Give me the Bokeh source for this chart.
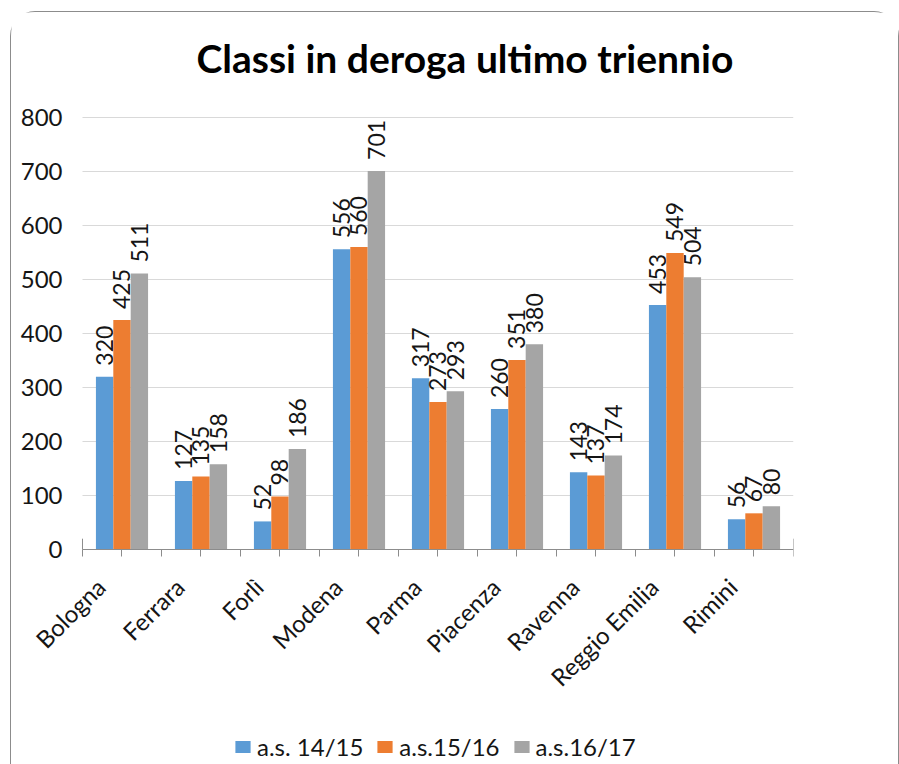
import math
from bokeh.plotting import figure
from bokeh.models import (Range1d, FixedTicker, ColumnDataSource, Legend, LegendItem, Label)
from bokeh.core.properties import value
from bokeh.embed import file_html
from bokeh.resources import INLINE

categories = ["Bologna", "Ferrara", "Forlì", "Modena", "Parma", "Piacenza", "Ravenna", "Reggio Emilia", "Rimini"]
series_names = ["a.s. 14/15", "a.s.15/16", "a.s.16/17"]
s1415 = [320, 127, 52, 556, 317, 260, 143, 453, 56]
s1516 = [425, 135, 98, 560, 273, 351, 137, 549, 67]
s1617 = [511, 158, 186, 701, 293, 380, 174, 504, 80]
y_ticks = [0, 100, 200, 300, 400, 500, 600, 700, 800]
title_text = "Classi in deroga ultimo triennio"

colors = ["#5B9BD5", "#ED7D31", "#A5A5A5"]
FONT = "Lato"
TXT = "#151515"
AX = "#8C8C8C"
N = len(categories)

# frame spans the canvas (except right margin); value axis 0..800 at 0.54 px/unit, 79 px per category
p = figure(width=889, height=753, output_backend="svg", toolbar_location=None,
           x_range=Range1d(-0.8987, N), y_range=Range1d(-400, 994.44),
           min_border_left=0, min_border_right=107, min_border_top=0, min_border_bottom=0)
p.styles = {"margin-left": "10px", "margin-top": "11px",
            "border-left": "1.5px solid #8C8C8C", "border-top": "1.5px solid #8C8C8C",
            "border-right": "1.5px solid #8C8C8C",
            "border-top-left-radius": "25px", "border-top-right-radius": "25px"}
p.outline_line_color = None
p.xgrid.grid_line_color = None
p.ygrid.grid_line_color = "#D9D9D9"
p.ygrid.grid_line_width = 1
p.ygrid.cross_bounds = (0, N)

centers = [i + 0.5 for i in range(N)]
offsets = [-0.22, 0.0, 0.22]
bar_w = 0.22
renderers = []
for k, vals in enumerate([s1415, s1516, s1617]):
    xs = [c + offsets[k] for c in centers]
    src = ColumnDataSource(dict(x=xs, top=vals, lab=[str(v) for v in vals]))
    r = p.vbar(x="x", top="top", bottom=0, width=bar_w, source=src, fill_color=colors[k], line_color=None)
    renderers.append(r)
    p.text(x="x", y="top", text="lab", source=src, angle=math.pi / 2, text_align="left",
           text_baseline="middle", y_offset=-11, text_font=value(FONT), text_font_size="23px",
           text_color=TXT)

# y axis placed at the first category boundary
p.yaxis.fixed_location = 0
p.yaxis.ticker = FixedTicker(ticks=y_ticks)
p.yaxis.axis_line_color = None
p.yaxis.major_tick_line_color = None
p.yaxis.minor_tick_line_color = None
p.yaxis.major_tick_out = 0
p.yaxis.major_tick_in = 0
p.yaxis.major_label_standoff = 20
p.yaxis.major_label_text_font = FONT
p.yaxis.major_label_text_font_size = "24px"
p.yaxis.major_label_text_color = TXT

# x axis placed at value 0; labels anchored slightly left of each category centre
label_pos = [c - 0.27 for c in centers]
half_ticks = [i * 0.5 for i in range(2 * N + 1)]
p.xaxis.fixed_location = 0
p.xaxis.bounds = (0, N)
p.xaxis.ticker = FixedTicker(ticks=label_pos, minor_ticks=half_ticks)
p.xaxis.major_label_overrides = {x: n for x, n in zip(label_pos, categories)}
p.xaxis.axis_line_color = AX
p.xaxis.major_tick_line_color = None
p.xaxis.major_tick_in = 0
p.xaxis.major_tick_out = 0
p.xaxis.minor_tick_line_color = AX
p.xaxis.minor_tick_in = 0
p.xaxis.minor_tick_out = 7
p.xaxis.major_label_orientation = math.pi / 4
p.xaxis.major_label_standoff = 26
p.xaxis.major_label_text_font = FONT
p.xaxis.major_label_text_font_size = "24px"
p.xaxis.major_label_text_color = TXT

# taller end ticks
p.segment(x0=[0, N], y0=[0, 0], x1=[0, N], y1=[20, 20], line_color=AX, line_width=1)

# title
p.add_layout(Label(x=185, x_units="screen", y=911, text=title_text,
                   text_align="left", text_baseline="alphabetic", text_font=FONT,
                   text_font_style="bold", text_font_size="39px", text_color="black"))

# legend
legend = Legend(items=[LegendItem(label=n, renderers=[r]) for n, r in zip(series_names, renderers)],
                location=(151 + 71, 4), orientation="horizontal", glyph_width=19, glyph_height=15,
                label_standoff=5, spacing=12, padding=0, margin=0, border_line_color=None,
                background_fill_alpha=0, label_text_font=FONT, label_text_font_size="24px",
                label_text_color=TXT)
p.add_layout(legend, "center")

open("out.html", "w").write(file_html(p, INLINE))
